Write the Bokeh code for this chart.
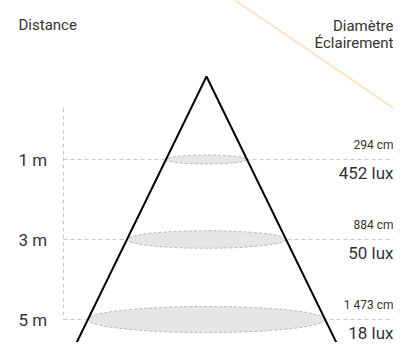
from bokeh.plotting import figure
from bokeh.models import Range1d, ColumnDataSource
from bokeh.core.properties import value
from bokeh.embed import file_html
from bokeh.resources import INLINE

distances = ["1 m", "3 m", "5 m"]
diameters = ["294 cm", "884 cm", "1 473 cm"]
lux = ["452 lux", "50 lux", "18 lux"]

# layout (pixel coordinates of the picture)
apex_x, apex_y = 206, 76
slope = 41.0 / 84.0          # half-width per pixel of depth
level0, step = 159, 80
left_x, right_x = 63, 393
levels = [level0 + i * step for i in range(len(distances))]
half = [slope * (y - apex_y) for y in levels]

W, H = 393, 342
p = figure(width=W, height=H, output_backend="svg", toolbar_location=None,
           x_range=Range1d(0, W), y_range=Range1d(H, 0), min_border=0)
p.axis.visible = False
p.grid.visible = False
p.outline_line_color = None
p.background_fill_color = "white"

FONT = "Roboto"
TXT = "#333333"
GRID = "#c8c8c8"

# decorative peach line
p.line([235, 401], [0, 113], line_color="#fde2c8", line_width=2)

# vertical dashed guide
p.line([left_x, left_x], [108, levels[-1]], line_color=GRID, line_width=1, line_dash="4 3")
# horizontal dashed guides
p.multi_line([[left_x, right_x] for _ in levels], [[y, y] for y in levels],
             line_color=GRID, line_width=1, line_dash="4 3")

# ellipses (light beam sections)
src = ColumnDataSource(dict(x=[apex_x] * len(levels), y=levels,
                            w=[2 * h for h in half], h=[2 * h * 0.11 for h in half]))
p.ellipse(x="x", y="y", width="w", height="h", source=src,
          fill_color="#e6e6e6", line_color="#b8b8b8", line_width=1, line_dash="3 2")

# cone
bottom = 360
hb = slope * (bottom - apex_y)
p.line([apex_x - hb, apex_x, apex_x + hb], [bottom, apex_y, bottom],
       line_color="black", line_width=2)

# header texts
p.text(x=[18], y=[24], text=["Distance"], text_font=value(FONT), text_font_size="15px",
       text_color=TXT, text_baseline="middle", text_align="left")
p.text(x=[393, 393], y=[25, 42], text=["Diamètre", "Éclairement"], text_font=value(FONT),
       text_font_size="15px", text_color=TXT, text_baseline="middle", text_align="right")

# level labels
p.text(x=[18] * len(levels), y=levels, text=distances, text_font=value(FONT),
       text_font_size="17px", text_color=TXT, text_baseline="middle", text_align="left")
p.text(x=[393] * len(levels), y=[y - 15 for y in levels], text=diameters, text_font=value(FONT),
       text_font_size="12px", text_color=TXT, text_baseline="middle", text_align="right")
p.text(x=[393] * len(levels), y=[y + 13 for y in levels], text=lux, text_font=value(FONT),
       text_font_size="17px", text_color=TXT, text_baseline="middle", text_align="right")

open("out.html", "w").write(file_html(p, INLINE))
